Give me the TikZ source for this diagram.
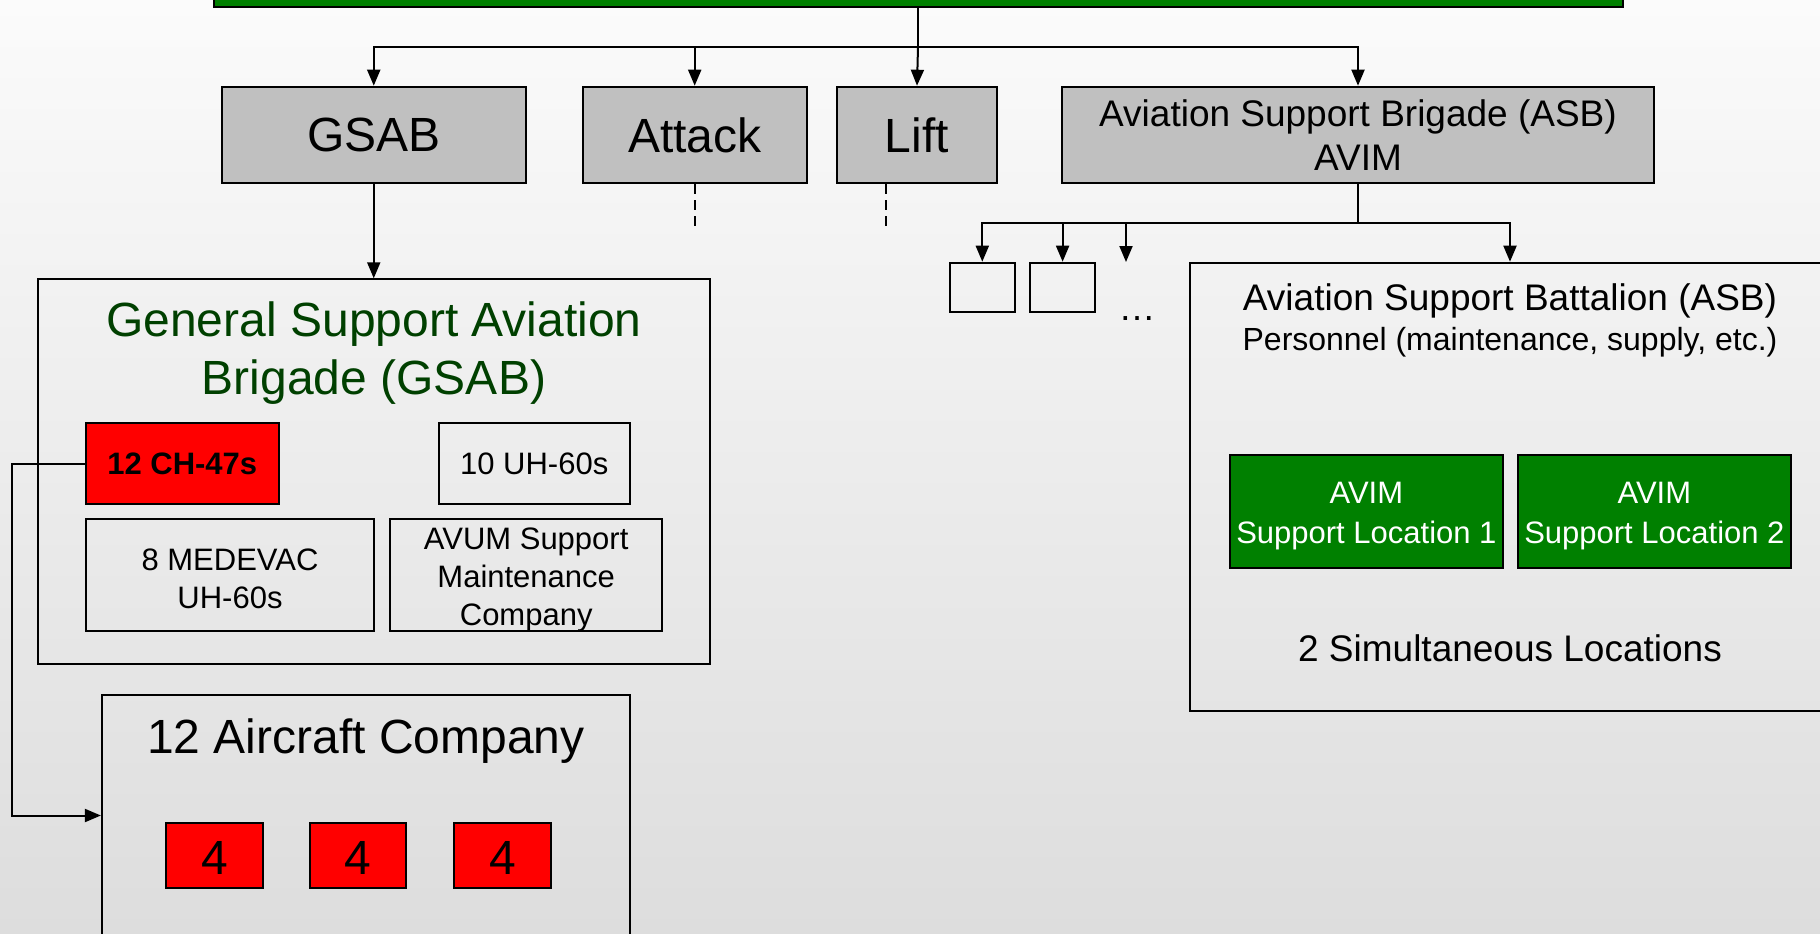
\documentclass[tikz,border=0pt]{standalone}
\usepackage{fontspec}
\setmainfont{Liberation Sans}
\usetikzlibrary{arrows.meta}
\definecolor{pgreen}{RGB}{0,128,0}
\definecolor{dgreen}{RGB}{0,64,0}
\definecolor{pgray}{RGB}{192,192,192}
\definecolor{pred}{RGB}{255,0,0}
\definecolor{bgtop}{RGB}{251,251,251}
\definecolor{bgbot}{RGB}{221,221,221}
\newcommand\fsL{\fontsize{48}{57.6}\selectfont}
\newcommand\fsM{\fontsize{37}{44.4}\selectfont}
\newcommand\fsS{\fontsize{31}{38}\selectfont}
\newcommand\fsSp{\fontsize{32}{38}\selectfont}
\newcommand\fsSg{\fontsize{31}{40}\selectfont}
\begin{document}
\begin{tikzpicture}[x=1pt,y=-1pt,
  box/.style={draw=black,line width=2pt,inner sep=0pt,rectangle,align=center},
  graybox/.style={box,fill=pgray,font=\fsL,minimum height=96.6pt},
  redbox/.style={box,fill=pred},
  greenbox/.style={box,fill=pgreen},
  plainbox/.style={box,font=\fsS},
  txt/.style={inner sep=0pt,align=center},
  lbl/.style={anchor=base,inner sep=0pt},
  conn/.style={line width=2pt},
  arr/.style={conn,-{Triangle[length=16pt,width=13pt]}},
  dsh/.style={conn,dash pattern=on 10pt off 6pt}]
\useasboundingbox (0,0) rectangle (1820,934);
\clip (0,0) rectangle (1820,934);
\shade[top color=bgtop,bottom color=bgbot] (0,0) rectangle (1820,934);

% top bar
\node[box,fill=pgreen,minimum width=1409pt,minimum height=40pt] (top) at (918,-13) {};

% second row
\node[graybox,minimum width=304pt] (gsab) at (373.75,135) {GSAB};
\node[graybox,minimum width=224pt] (attack) at (694.7,135) {Attack};
\node[graybox,minimum width=160pt] (lift) at (917,135) {Lift};
\node[graybox,minimum width=592pt,font=\fsM] (asb) at (1358,135) {Aviation Support Brigade (ASB)\\AVIM};

\coordinate (bus) at (918,47);
\draw[conn] (top.south) -- (bus);
\draw[arr] (bus) -| (gsab.north);
\draw[arr] (bus) -| (attack.north);
\draw[arr] (bus) -- (lift.north);
\draw[arr] (bus) -| (asb.north);

\coordinate (attdash) at (694.7,232);
\coordinate (liftdash) at (885.6,232);
\draw[dsh] (attack.south) -- (attdash);
\draw[dsh] (attack.south -| liftdash) -- (liftdash);

% GSAB big box
\node[box,minimum width=672.2pt,minimum height=384.7pt] (gsabbig) at (374.2,471.65) {};
\draw[arr] (gsab.south) -- (gsab.south |- gsabbig.north);
\node[lbl,font=\fsL,text=dgreen] (gt1) at (374,336) {General Support Aviation};
\node[lbl,font=\fsL,text=dgreen] (gt2) at (374,394) {Brigade (GSAB)};
\node[redbox,font=\fsS\bfseries,minimum width=192.8pt,minimum height=80.4pt] (ch47) at (182.3,463.5) {12 CH-47s};
\node[plainbox,minimum width=191.5pt,minimum height=80.4pt] (uh60) at (534.25,463.5) {10 UH-60s};
\node[box,minimum width=288.3pt,minimum height=112pt] (medevac) at (230,575.3) {};
\node[txt,font=\fsS] (medevact) at ([yshift=-4pt]medevac.center) {8 MEDEVAC\\UH-60s};
\node[box,minimum width=271.7pt,minimum height=112pt] (avum) at (526.2,575.3) {};
\node[txt,font=\fsS] (avumt) at ([yshift=-5pt]avum.center) {AVUM Support\\Maintenance\\Company};

% 12 Aircraft Company
\node[box,minimum width=528.5pt,minimum height=241pt] (acbox) at (366.15,815.5) {};
\node[lbl,font=\fsL] (actitle) at (366,753.3) {12 Aircraft Company};
\node[redbox,minimum width=96.4pt,minimum height=65pt] (r1) at (214.4,855.8) {};
\node[redbox,minimum width=96.4pt,minimum height=65pt] (r2) at (358.2,855.8) {};
\node[redbox,minimum width=96.4pt,minimum height=65pt] (r3) at (502.5,855.8) {};
\node[lbl,font=\fsL] (r1t) at (214.4,874.5) {4};
\node[lbl,font=\fsL] (r2t) at (358.2,874.5) {4};
\node[lbl,font=\fsL] (r3t) at (502.5,874.5) {4};
\coordinate (lft) at (11.5,463.5);
\draw[arr] (ch47.west) -- (lft) |- (acbox.west);

% ASB children
\coordinate (abus) at (1358,223);
\node[box,minimum width=64.8pt,minimum height=49pt] (s1) at (982.3,287.2) {};
\node[box,minimum width=64.8pt,minimum height=49pt] (s2) at (1062.6,287.2) {};
\coordinate (dotsin) at (1126,262);
\node[lbl,font=\fsM] (dots) at (1137,320) {…};
\node[box,minimum width=640.4pt,minimum height=448pt] (bat) at (1510,486.7) {};
\draw[conn] (asb.south) -- (abus);
\draw[arr] (abus) -| (s1.north);
\draw[arr] (abus) -| (s2.north);
\draw[arr] (abus) -| (dotsin);
\draw[arr] (abus) -| (bat.north);

\node[lbl,font=\fsM] (bt1) at (1510,310) {Aviation Support Battalion (ASB)};
\node[lbl,font=\fsSp] (bt2) at (1510,350) {Personnel (maintenance, supply, etc.)};
\node[greenbox,minimum width=272.7pt,minimum height=112.7pt] (avim1) at (1366.4,511.4) {};
\node[greenbox,minimum width=272.7pt,minimum height=112.7pt] (avim2) at (1654.4,511.4) {};
\node[txt,font=\fsSg,text=white] (avim1t) at ([yshift=-5pt]avim1.center) {AVIM\\Support Location 1};
\node[txt,font=\fsSg,text=white] (avim2t) at ([yshift=-5pt]avim2.center) {AVIM\\Support Location 2};
\node[lbl,font=\fsM] (simul) at (1510,661.7) {2 Simultaneous Locations};
\end{tikzpicture}
\end{document}
